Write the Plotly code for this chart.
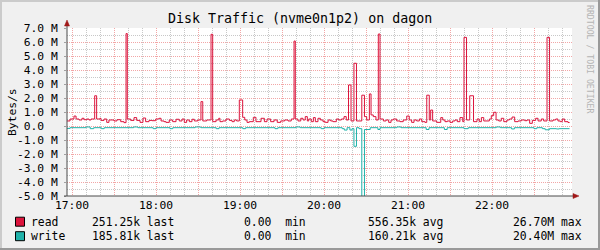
import plotly.graph_objects as go
import pandas as pd

# ---------------- data ----------------
T0 = pd.Timestamp("2024-01-01 17:00:00")

# (minutes after 17:00, value in M bytes/s) step breakpoints
read_steps = [
    (-3.8, 0.36), (-1.4, 0.50), (1.4, 0.71), (2.9, 0.50), (5.0, 0.43), (7.1, 0.55), (8.6, 0.45),
    (10.7, 0.50), (12.1, 0.43), (13.6, 0.50), (16.2, 2.16), (17.6, 0.50), (20.0, 0.55), (20.7, 0.40),
    (22.9, 0.50), (24.8, 0.26), (26.4, 0.43), (30.0, 0.36), (32.1, 0.45), (34.8, 0.31), (37.1, 0.24),
    (38.6, 6.60), (39.5, 0.50), (41.9, 0.40), (44.3, 0.60), (46.2, 0.40), (48.6, 0.26), (50.7, 0.57),
    (52.6, 0.31), (55.0, 0.40), (57.1, 0.38), (59.8, 0.50), (62.1, 0.55), (63.6, 0.36), (65.7, 0.31),
    (67.1, 0.26), (69.5, 0.43), (71.9, 0.31), (74.3, 0.48), (76.6, 0.36), (78.6, 0.50), (80.2, 0.26),
    (81.9, 0.43), (83.8, 0.31), (85.7, 0.48), (87.4, 0.36), (89.8, 0.43), (92.1, 1.74), (93.4, 0.36),
    (96.2, 0.43), (99.3, 6.55), (100.5, 0.31), (102.9, 0.43), (104.8, 0.55), (105.7, 0.31), (107.6, 0.36),
    (110.0, 0.50), (112.4, 0.40), (114.3, 0.31), (115.9, 0.43), (117.6, 0.36), (119.5, 1.86), (121.9, 0.62),
    (123.4, 0.43), (125.0, 0.26), (126.6, 0.31), (129.5, 0.62), (131.4, 0.31), (135.0, 0.55), (137.4, 0.31),
    (139.3, 0.50), (141.9, 0.31), (144.3, 0.43), (146.6, 0.26), (149.1, 0.36), (151.9, 0.43), (154.3, 0.36),
    (156.6, 0.50), (158.6, 6.07), (159.5, 0.50), (161.4, 0.36), (163.4, 0.55), (165.0, 0.43), (166.6, 0.67),
    (168.1, 0.36), (169.1, 0.50), (170.9, 0.31), (172.4, 0.60), (173.8, 0.31), (175.7, 0.55), (177.4, 0.43),
    (179.3, 0.31), (180.9, 0.26), (182.9, 0.43), (184.8, 0.36), (186.4, 0.31), (188.8, 0.50), (190.5, 0.43),
    (192.4, 0.50), (194.3, 0.67), (195.9, 0.43), (197.5, 2.93), (199.3, 0.36), (201.4, 4.48), (203.2, 0.36),
    (207.0, 2.20), (208.9, 0.67), (210.5, 0.43), (212.4, 2.29), (213.6, 0.79), (215.2, 0.67), (217.1, 0.43),
    (218.8, 6.57), (220.0, 0.50), (222.4, 0.36), (224.3, 0.43), (226.2, 0.26), (227.9, 0.43), (229.5, 0.50),
    (231.9, 0.36), (234.3, 0.31), (236.6, 0.43), (239.1, 0.71), (240.9, 0.43), (242.6, 0.26), (244.3, 0.43),
    (246.2, 0.36), (248.1, 0.50), (249.8, 0.31), (252.1, 0.26), (253.4, 2.20), (255.2, 0.43), (256.2, 1.14),
    (257.6, 0.36), (260.5, 0.26), (263.4, 0.60), (264.8, 0.43), (266.4, 0.31), (268.1, 0.36), (270.0, 0.26),
    (271.9, 0.36), (273.6, 0.43), (275.2, 0.31), (277.1, 0.60), (279.1, 0.31), (280.0, 6.33), (281.8, 0.43),
    (284.1, 2.16), (286.8, 0.31), (289.3, 0.50), (290.9, 0.31), (292.4, 0.60), (294.1, 0.36), (298.1, 0.50),
    (299.5, 0.74), (301.2, 0.98), (302.9, 0.43), (304.8, 0.36), (306.6, 0.55), (308.4, 0.31), (310.7, 0.43),
    (312.4, 0.50), (314.3, 0.64), (316.2, 0.31), (318.6, 0.36), (320.9, 0.43), (323.4, 0.38), (325.0, 0.43),
    (326.9, 0.19), (328.8, 0.40), (331.2, 0.55), (332.9, 0.36), (335.2, 0.50), (336.9, 0.36), (339.3, 6.33),
    (341.1, 0.36), (343.6, 0.43), (345.5, 0.50), (347.1, 0.36), (348.8, 0.31), (350.2, 0.50), (351.9, 0.31),
    (354.3, 0.25), (355.4, 0.25),
]

write_steps = [
    (-3.8, 0.17), (-1.4, 0.12), (10.0, 0.07), (13.0, 0.19), (15.5, 0.12), (21.0, 0.19), (23.0, 0.12),
    (44.0, 0.07), (47.0, 0.12), (58.0, 0.19), (60.0, 0.12), (70.0, 0.19), (72.0, 0.12), (88.0, 0.07),
    (92.0, 0.12), (103.0, 0.19), (105.0, 0.12), (122.0, 0.19), (124.0, 0.12), (145.0, 0.19), (147.0, 0.12),
    (160.0, 0.07), (163.0, 0.12), (178.0, 0.19), (180.0, 0.12), (193.0, 0.19), (194.5, 0.29), (196.5, 0.12),
    (198.5, 0.29), (200.0, 0.19), (201.4, 1.45), (203.2, 0.12), (205.0, 0.19), (207.0, 20.4), (208.9, 0.25),
    (213.0, 0.12), (218.5, 0.25), (220.0, 0.12), (232.0, 0.07), (235.0, 0.12), (253.0, 0.25), (255.0, 0.12),
    (266.0, 0.25), (268.0, 0.12), (280.0, 0.19), (283.0, 0.12), (303.0, 0.07), (306.0, 0.12), (314.0, 0.21),
    (316.0, 0.12), (330.0, 0.19), (332.0, 0.12), (336.0, 0.19), (338.0, 0.27), (341.0, 0.19), (346.0, 0.21),
    (348.0, 0.19), (355.4, 0.19),
]

y_tick_values = [-5, -4, -3, -2, -1, 0, 1, 2, 3, 4, 5, 6, 7]
y_tick_labels = ["-5.0 M", "-4.0 M", "-3.0 M", "-2.0 M", "-1.0 M", "0.0\u00a0\u00a0",
                 "1.0 M", "2.0 M", "3.0 M", "4.0 M", "5.0 M", "6.0 M", "7.0 M"]
x_tick_minutes = [0, 30, 60, 90, 120, 150, 180, 210, 240, 270, 300, 330]
x_tick_labels = ["17:00", "", "18:00", "", "19:00", "", "20:00", "", "21:00", "", "22:00", ""]

legend_names = ["read", "write"]
legend_last = ["251.25k", "185.81k"]
legend_min = ["0.00", "0.00"]
legend_avg = ["556.35k", "160.21k"]
legend_max = ["26.70M", "20.40M"]

title = "Disk Traffic (nvme0n1p2) on dagon"
y_title = "Bytes/s"
watermark = "RRDTOOL / TOBI OETIKER"

READ_C = "#DC143C"
WRITE_C = "#20B2AA"
MONO = "DejaVu Sans Mono"

def to_time(mins):
    return [T0 + pd.Timedelta(minutes=m) for m in mins]

read_t = to_time([s[0] for s in read_steps])
read_v = [s[1] for s in read_steps]
write_t = to_time([s[0] for s in write_steps])
write_v = [-s[1] for s in write_steps]

# ---------------- geometry helpers ----------------
W, H = 600, 250
L, R, T, B = 67, 572, 28, 196

def px(X):
    return (X - L) / (R - L)

def py(Y):
    return (B - Y) / (B - T)

fig = go.Figure()
fig.add_trace(go.Scatter(x=read_t, y=read_v, mode="lines",
                         line=dict(color=READ_C, width=1, shape="hv"),
                         hoverinfo="skip", showlegend=False))
fig.add_trace(go.Scatter(x=write_t, y=write_v, mode="lines",
                         line=dict(color=WRITE_C, width=1, shape="hv"),
                         hoverinfo="skip", showlegend=False))

x_start = T0 + pd.Timedelta(minutes=(L - 72) / 1.4)
x_end = T0 + pd.Timedelta(minutes=(R - 72) / 1.4)

fig.update_layout(
    width=W, height=H,
    margin=dict(l=L, r=W - R, t=T, b=H - B, pad=0),
    paper_bgcolor="#F0F0F0", plot_bgcolor="#FFFFFF",
    showlegend=False,
    xaxis=dict(
        type="date", range=[x_start, x_end], automargin=False, fixedrange=True,
        tickmode="array", tickvals=to_time(x_tick_minutes), ticktext=x_tick_labels,
        showgrid=True, gridcolor="#F2A6A6", griddash="1px,1px", gridwidth=1,
        ticks="", ticklabelstandoff=1,
        tickfont=dict(family=MONO, size=11.3, color="#000000"),
        zeroline=False, showline=False,
        minor=dict(dtick=600000, tick0=T0, showgrid=True, gridcolor="#C8C8C8",
                   griddash="1px,1px", ticks=""),
    ),
    yaxis=dict(
        range=[-5, 7], automargin=False, fixedrange=True,
        tickmode="array", tickvals=y_tick_values, ticktext=y_tick_labels,
        showgrid=True, gridcolor="#F2A6A6", griddash="1px,1px", gridwidth=1,
        ticks="outside", ticklen=2, tickcolor="#A0A0A0", ticklabelstandoff=4,
        tickfont=dict(family=MONO, size=11.3, color="#000000"),
        zeroline=False, showline=False,
        minor=dict(dtick=0.5, tick0=0, showgrid=True, gridcolor="#C8C8C8",
                   griddash="1px,1px", ticks=""),
    ),
)

AXIS_C = "#4A4A4A"
ARROW_C = "#A01818"
TICK_C = "#A0A0A0"
shapes = [
    # frame shading
    dict(type="rect", xref="paper", yref="paper", x0=px(0), x1=px(600), y0=py(0), y1=py(2),
         fillcolor="#CBCBCB", line_width=0, layer="below"),
    dict(type="rect", xref="paper", yref="paper", x0=px(0), x1=px(2), y0=py(0), y1=py(250),
         fillcolor="#CBCBCB", line_width=0, layer="below"),
    dict(type="rect", xref="paper", yref="paper", x0=px(598), x1=px(600), y0=py(0), y1=py(250),
         fillcolor="#999999", line_width=0, layer="below"),
    dict(type="rect", xref="paper", yref="paper", x0=px(0), x1=px(600), y0=py(248), y1=py(250),
         fillcolor="#999999", line_width=0, layer="below"),
    # axes
    dict(type="line", xref="paper", yref="paper", x0=px(67), x1=px(67), y0=py(196), y1=py(23),
         line=dict(color=AXIS_C, width=1), layer="above"),
    dict(type="line", xref="paper", yref="paper", x0=px(64), x1=px(575), y0=py(196), y1=py(196),
         line=dict(color=AXIS_C, width=1), layer="above"),
    dict(type="path", xref="paper", yref="paper",
         path=f"M {px(64.5)},{py(26)} L {px(69.5)},{py(26)} L {px(67)},{py(20)} Z",
         fillcolor=ARROW_C, line=dict(color=ARROW_C, width=0.5), layer="above"),
    dict(type="path", xref="paper", yref="paper",
         path=f"M {px(573)},{py(193.5)} L {px(573)},{py(198.5)} L {px(579)},{py(196)} Z",
         fillcolor=ARROW_C, line=dict(color=ARROW_C, width=0.5), layer="above"),
]

annotations = [
    dict(text=title, x=px(300), y=py(18), xref="paper", yref="paper", showarrow=False,
         xanchor="center", yanchor="middle", font=dict(family=MONO, size=13.3, color="#000000")),
    dict(text=y_title, x=px(12), y=py(112), xref="paper", yref="paper", showarrow=False,
         textangle=-90, xanchor="center", yanchor="middle",
         font=dict(family=MONO, size=11.3, color="#000000")),
    dict(text=watermark, x=px(590), y=py(59), xref="paper", yref="paper", showarrow=False,
         textangle=90, xanchor="center", yanchor="middle",
         font=dict(family=MONO, size=8.2, color="#B4B4B4")),
]

row_y = [221.7, 236.2]
colors = [READ_C, WRITE_C]
for i in range(2):
    yc = row_y[i]
    shapes.append(dict(type="rect", xref="paper", yref="paper",
                       x0=px(15.5), x1=px(24.5), y0=py(yc - 4.5), y1=py(yc + 4.5),
                       fillcolor=colors[i], line=dict(color="#000000", width=1), layer="above"))
    items = [
        (29.5, legend_names[i]),
        (90.5, f"{legend_last[i]} last"),
        (242.5, f"{legend_min[i]}\u00a0\u00a0min"),
        (367.0, f"{legend_avg[i]} avg"),
        (512.0, f"{legend_max[i]} max"),
    ]
    for X, txt in items:
        annotations.append(dict(text=txt, x=px(X), y=py(yc), xref="paper", yref="paper",
                                showarrow=False, xanchor="left", yanchor="middle", borderpad=0,
                                font=dict(family=MONO, size=11.4, color="#000000")))

fig.update_layout(shapes=shapes, annotations=annotations)
fig.write_html("out.html")
